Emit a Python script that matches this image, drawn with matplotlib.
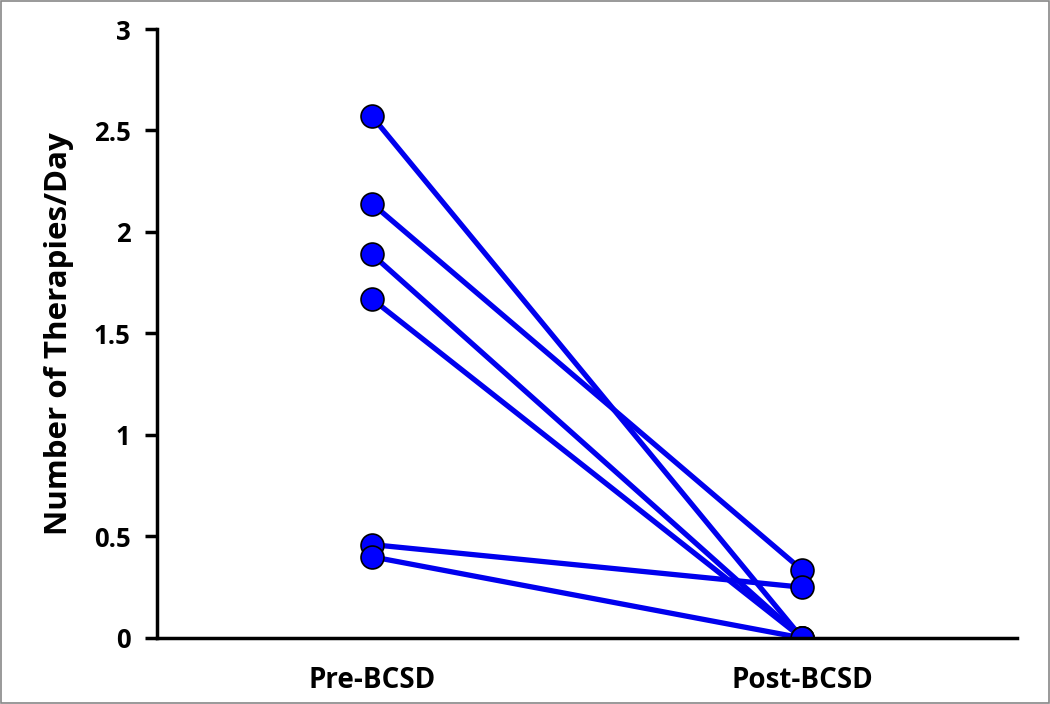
import matplotlib.pyplot as plt
from matplotlib.patches import Rectangle

groups = ['Pre-BCSD', 'Post-BCSD']
pre_values = [2.57, 2.14, 1.89, 1.67, 0.46, 0.40]
post_values = [0.0, 0.335, 0.0, 0.0, 0.25, 0.0]
y_ticks = [0, 0.5, 1, 1.5, 2, 2.5, 3]
y_tick_labels = ['0', '0.5', '1', '1.5', '2', '2.5', '3']

plt.rcParams['font.family'] = ['Open Sans', 'DejaVu Sans']

fig = plt.figure(figsize=(10.5, 7.04), dpi=100)
ax = fig.add_axes([0.1495, 0.0938, 0.8191, 0.865])

# one line per patient, pre -> post
for pre, post in zip(pre_values, post_values):
    ax.plot([0, 1], [pre, post], color='#0000ee', linewidth=3.8,
            marker='o', markersize=16.5, markerfacecolor='#0000ff',
            markeredgecolor='black', markeredgewidth=1.2, solid_capstyle='butt')

ax.set_xlim(-0.5, 1.5)
ax.set_ylim(0, 3)
ax.set_xticks([0, 1])
ax.set_xticklabels(groups, fontsize=20, fontweight='bold')
ax.set_yticks(y_ticks)
ax.set_yticklabels(y_tick_labels, fontsize=18.5, fontweight='bold')
ax.tick_params(axis='x', length=0, pad=20)
ax.tick_params(axis='y', length=9, width=2.5, direction='out', pad=10)
ax.set_ylabel('Number of Therapies/Day', fontsize=22.5, fontweight='bold', labelpad=14)

for side in ['top', 'right']:
    ax.spines[side].set_visible(False)
for side in ['left', 'bottom']:
    ax.spines[side].set_linewidth(2.5)

# thin grey frame around the figure
fig.patches.append(Rectangle((0.001, 0.001), 0.998, 0.997, transform=fig.transFigure,
                             fill=False, edgecolor='#888888', linewidth=1.2))

fig.savefig('out.png', dpi=100)
